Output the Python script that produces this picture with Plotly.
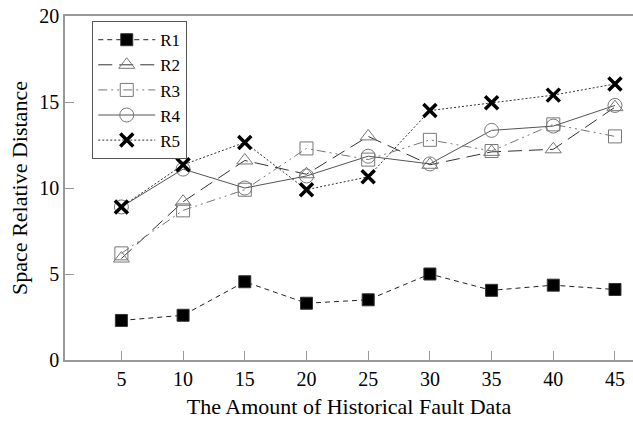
import plotly.graph_objects as go

x_vals = [5, 10, 15, 20, 25, 30, 35, 40, 45]
r1 = [2.3, 2.6, 4.55, 3.3, 3.5, 5.0, 4.05, 4.35, 4.1]
r2 = [5.9, 9.2, 11.6, 10.8, 13.0, 11.35, 12.1, 12.25, 14.7]
r3 = [6.2, 8.7, 9.9, 12.3, 11.65, 12.8, 12.15, 13.7, 13.0]
r4 = [8.9, 11.1, 10.0, 10.7, 11.85, 11.4, 13.35, 13.6, 14.8]
r5 = [8.9, 11.35, 12.65, 9.9, 10.65, 14.5, 14.95, 15.4, 16.05]
names = ["R1", "R2", "R3", "R4", "R5"]
x_ticks = [5, 10, 15, 20, 25, 30, 35, 40, 45]
y_ticks = [0, 5, 10, 15, 20]

FONT = "Liberation Serif, Times New Roman, Times, serif"

fig = go.Figure()
fig.add_trace(go.Scatter(x=x_vals, y=r1, name=names[0], mode="lines+markers",
                         line=dict(color="#222", width=1, dash="5px,4px"),
                         marker=dict(symbol="square", size=12, color="black",
                                     line=dict(color="#333", width=1))))
fig.add_trace(go.Scatter(x=x_vals, y=r2, name=names[1], mode="lines+markers",
                         line=dict(color="#333", width=1, dash="14px,7px"),
                         marker=dict(symbol="triangle-up-open", size=14, color="#777",
                                     line=dict(color="#777", width=1))))
fig.add_trace(go.Scatter(x=x_vals, y=r3, name=names[2], mode="lines+markers",
                         line=dict(color="#777", width=1, dash="9px,4px,2px,4px,2px,4px"),
                         marker=dict(symbol="square-open", size=13, color="#777",
                                     line=dict(color="#777", width=1))))
fig.add_trace(go.Scatter(x=x_vals, y=r4, name=names[3], mode="lines+markers",
                         line=dict(color="#555", width=1),
                         marker=dict(symbol="circle-open", size=14, color="#777",
                                     line=dict(color="#777", width=1))))
fig.add_trace(go.Scatter(x=x_vals, y=r5, name=names[4], mode="lines+markers",
                         line=dict(color="#333", width=1, dash="2px,2px"),
                         marker=dict(symbol="x-thin-open", size=13, color="black",
                                     line=dict(color="black", width=3.5))))

axis_color = "#999"
fig.update_layout(
    width=633, height=424,
    margin=dict(l=64.5, r=0, t=16, b=64),
    paper_bgcolor="white", plot_bgcolor="white",
    font=dict(family=FONT, size=19, color="black"),
    showlegend=True,
    legend=dict(x=0.048, y=0.985, xanchor="left", yanchor="top",
                bordercolor="#555", borderwidth=1, bgcolor="white",
                font=dict(family=FONT, size=17), tracegroupgap=0, itemwidth=57),
    xaxis=dict(range=[0.43, 46.46], tickvals=x_ticks, ticks="inside", ticklen=9,
               tickcolor=axis_color, showline=True, linecolor=axis_color, linewidth=1.5,
               mirror=True, showgrid=False, zeroline=False,
               title=dict(text="The Amount of Historical Fault Data",
                          font=dict(family=FONT, size=22), standoff=10),
               tickfont=dict(family=FONT, size=20)),
    yaxis=dict(range=[0, 20], tickvals=y_ticks, ticks="inside", ticklen=9,
               tickcolor=axis_color, showline=True, linecolor=axis_color, linewidth=1.5,
               showgrid=False, zeroline=False, ticklabeloverflow="allow",
               title=dict(text="Space Relative Distance",
                          font=dict(family=FONT, size=22), standoff=6),
               tickfont=dict(family=FONT, size=20)),
)

fig.write_html("out.html", config={"displayModeBar": False},
               post_script="document.body.style.margin='0';")
